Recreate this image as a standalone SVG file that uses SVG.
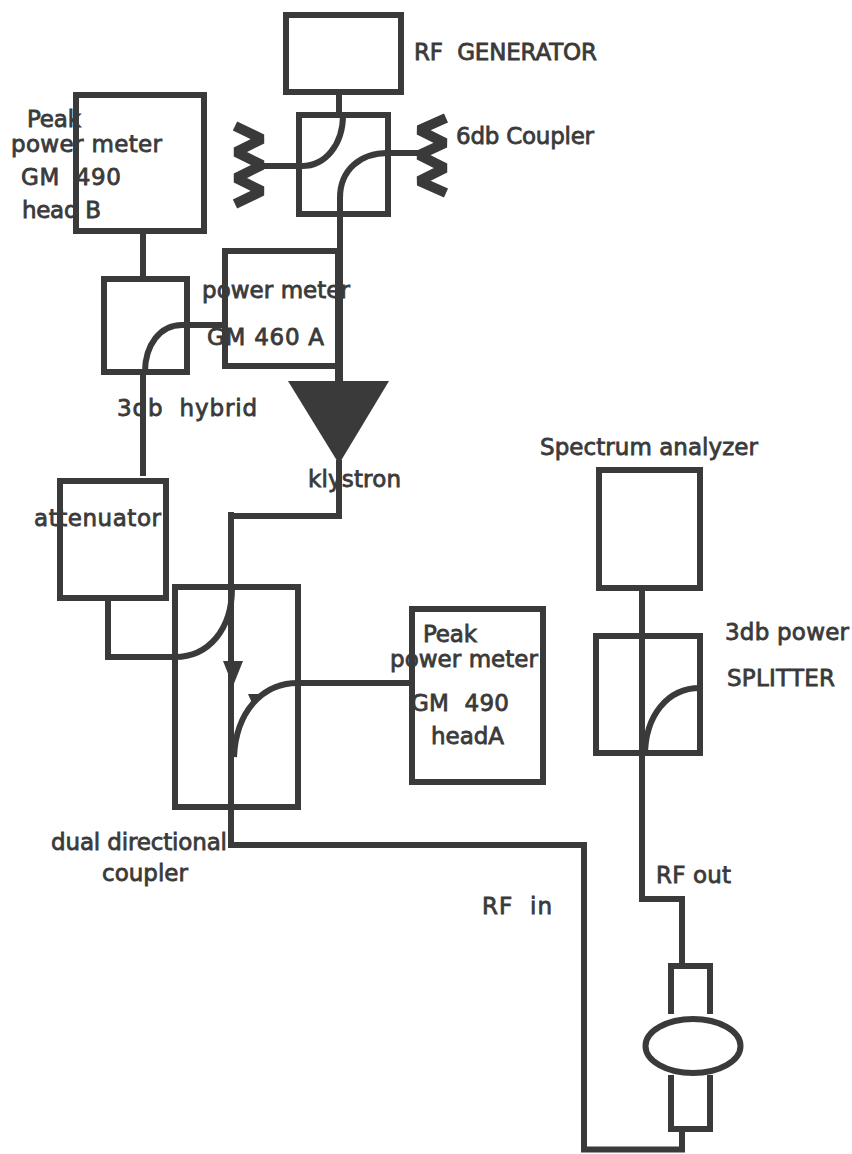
<svg xmlns="http://www.w3.org/2000/svg" width="852" height="1154" viewBox="0 0 852 1154">
<style>
.b,.l,.c,.z{fill:none;stroke:#3a3a3a;stroke-width:6}
.c{stroke-width:8}
.z{stroke-width:10;stroke-linejoin:bevel}
.f{fill:#3a3a3a;stroke:none}
text{font-family:"DejaVu Sans",sans-serif;font-size:23px;fill:#3a3a3a;stroke:#3a3a3a;stroke-width:.8;white-space:pre}
</style>
<rect width="852" height="1154" fill="#fff"/>
<g id="connectors">
<path class="l" d="M339 95V114"/>
<path class="l" d="M343 115C343 145 325 166 302 166H262"/>
<path class="l" d="M388 153C360 153 340 170 340 198V250"/>
<path class="l" d="M388 153H420"/>
<path class="c" d="M339 248V382"/>
<path class="l" d="M143 234V278"/>
<path class="l" d="M222 325H182C160 325 145 345 145 372M143 372V476"/>
<path class="l" d="M339 460V516H231"/>
<path class="l" d="M231 512V845H584V1149.500H682V1131"/>
<path class="l" d="M108 600V657H175C208 657 232 630 232 588"/>
<path class="l" d="M234 757C236 712 262 683 298 683H410"/>
<path class="f" d="M223 661H243L233 686Z"/>
<path class="f" d="M248 694H263L252 703Z"/>
<path class="l" d="M642 590V899H682V964"/>
<path class="l" d="M700 688C668 688 645 715 645 756"/>
</g>
<g id="rf-generator"><rect class="b" x="286" y="15" width="115" height="77"/><text x="414" y="60" textLength="183">RF  GENERATOR</text></g>
<g id="coupler"><rect class="b" x="299" y="115" width="89" height="99"/><text x="456" y="144" textLength="138">6db Coupler</text></g>
<g id="load-left"><path class="z" d="M235 126L262 139L236 152L262 165L236 178L262 191L235 204"/></g>
<g id="load-right"><path class="z" d="M446 118L419 130L445 143L419 155L445 168L419 181L446 193"/></g>
<g id="peak-b"><rect class="b" x="76" y="95" width="128" height="136"/>
<text x="27" y="127" textLength="54">Peak</text><text x="11" y="152" textLength="151">power meter</text><text x="21" y="185" textLength="100">GM  490</text><text x="22" y="218" textLength="79">head B</text></g>
<g id="hybrid"><rect class="b" x="104" y="279" width="83" height="93"/><text x="117" y="416" textLength="140">3db  hybrid</text></g>
<g id="power-meter"><rect class="b" x="225" y="251" width="114" height="115"/><text x="202" y="298" textLength="148">power meter</text><text x="207" y="345" textLength="117">GM 460 A</text></g>
<g id="klystron"><path class="f" d="M288 381H389L339 464Z"/><text x="308" y="487" textLength="93">klystron</text></g>
<g id="attenuator"><rect class="b" x="60" y="481" width="106" height="117"/><text x="34" y="526" textLength="127">attenuator</text></g>
<g id="dual-coupler"><rect class="b" x="175" y="587" width="123" height="220"/><text x="51" y="850" textLength="176">dual directional</text><text x="102" y="881" textLength="86">coupler</text></g>
<g id="peak-a"><rect class="b" x="412" y="609" width="131" height="173"/>
<text x="423" y="642" textLength="54">Peak</text><text x="390" y="667" textLength="148">power meter</text><text x="411" y="711" textLength="98">GM  490</text><text x="431" y="744" textLength="73">headA</text></g>
<g id="spectrum"><rect class="b" x="599" y="470" width="101" height="118"/><text x="540" y="455" textLength="218">Spectrum analyzer</text></g>
<g id="splitter"><rect class="b" x="596" y="636" width="104" height="117"/><text x="725" y="640" textLength="124">3db power</text><text x="727" y="686" textLength="108">SPLITTER</text></g>
<g id="rf-labels"><text x="656" y="883" textLength="75">RF out</text><text x="482" y="914" textLength="70">RF  in</text></g>
<g id="cavity"><path class="l" d="M671 1014V966H710V1014M671 1075V1129H710V1075"/><ellipse class="l" cx="693" cy="1046" rx="47.500" ry="27"/></g>
</svg>
